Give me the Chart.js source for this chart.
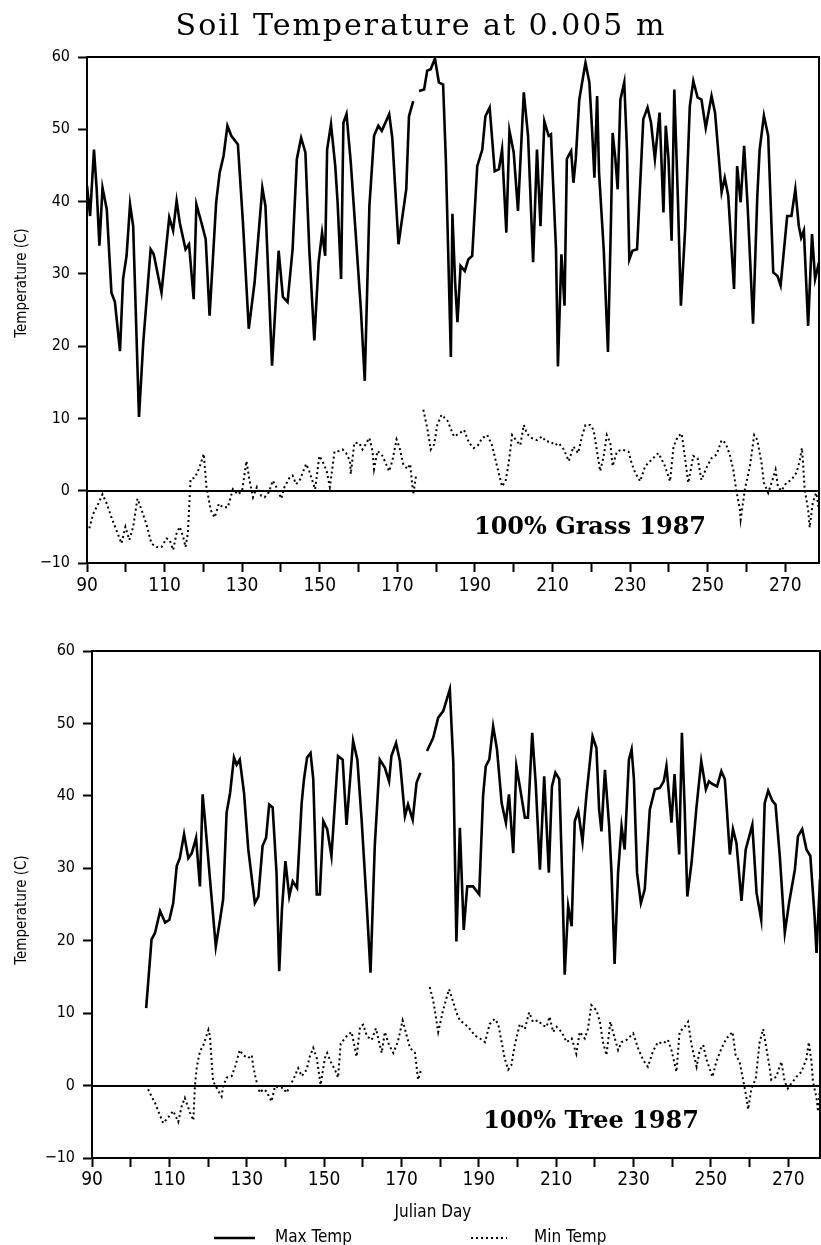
<!DOCTYPE html>
<html lang="en">
<head>
  <meta charset="UTF-8">
  <title>Soil Temperature at 0.005 m</title>
  <script src="https://cdn.jsdelivr.net/npm/chart.js"></script>
  <style>
    body { margin: 0; background: #fff; }
    #wrap { position: relative; width: 821px; height: 1245px; }
    canvas { position: absolute; left: 0; }
  </style>
</head>
<body>
<div id="wrap">
  <canvas id="grassCanvas" width="821" height="600" style="top:0"></canvas>
  <canvas id="treeCanvas" width="821" height="645" style="top:600px"></canvas>
</div>
<script>
  // Julian days and temperatures (null = gap in record)
  const grassMaxDay = [90.0,90.8,91.8,92.5,93.2,94.0,95.1,96.3,97.2,98.5,99.3,100.2,101.1,101.9,103.4,104.5,106.4,107.2,109.2,111.2,112.2,113.1,113.9,115.4,116.3,117.5,118.2,119.5,120.6,121.6,123.3,124.2,125.2,126.2,127.2,128.9,130.2,131.7,133.2,135.2,136.0,137.7,139.4,140.5,141.7,143.0,144.1,145.2,146.3,147.3,148.6,149.7,150.6,151.4,151.9,152.9,154.0,154.6,155.5,156.1,156.9,158.0,159.3,160.6,161.6,162.8,164.0,165.1,166.0,167.9,168.7,170.3,172.3,173.0,174.1,175.0,175.6,176.9,177.7,178.6,179.7,180.7,181.8,182.5,183.8,184.2,184.9,185.5,186.3,187.4,188.3,189.3,190.6,191.9,192.7,193.8,195.1,196.2,197.0,198.1,198.9,200.0,201.1,202.6,203.7,205.0,206.0,206.9,207.9,209.0,209.6,210.9,211.4,212.3,213.1,213.7,214.8,215.4,216.0,216.9,218.5,219.5,220.2,220.8,221.5,222.0,223.2,224.3,225.1,225.5,226.2,226.8,227.5,228.5,229.2,229.8,230.6,231.8,233.4,234.5,235.4,236.4,237.6,238.6,239.2,239.9,240.7,241.4,242.3,243.1,244.2,245.4,246.3,247.4,248.4,249.5,251.0,251.9,253.6,254.4,255.3,256.8,257.6,258.5,259.4,260.3,261.7,262.8,263.4,264.5,265.6,266.9,268.0,268.8,270.5,271.6,272.6,273.5,274.1,274.8,275.9,276.9,277.7,278.7];
  const grassMaxTemp = [42.2,38.0,47.2,41.7,33.9,41.9,38.9,27.4,26.1,19.3,29.3,32.5,39.6,36.6,10.2,20.5,33.4,32.7,27.4,37.8,36.0,40.1,37.1,33.4,34.1,26.5,39.6,37.1,34.8,24.2,39.9,44.0,46.3,50.5,49.1,47.9,37.1,22.4,28.8,41.9,39.4,17.3,33.2,26.8,26.1,33.4,45.9,48.8,46.8,33.4,20.8,31.6,35.7,32.5,47.2,50.7,44.9,39.9,29.3,50.9,52.1,45.4,35.3,25.1,15.2,39.4,49.1,50.5,49.8,52.1,48.8,34.1,41.7,51.8,53.9,null,55.3,55.5,58.1,58.3,59.8,56.5,56.2,45.9,18.5,38.3,28.8,23.3,31.1,30.4,32.0,32.5,44.9,47.2,51.8,53.0,44.2,44.5,47.2,35.7,49.8,46.8,38.7,55.1,49.1,31.6,47.2,36.6,51.1,49.1,49.3,33.4,17.2,32.7,25.6,45.9,47.0,42.6,45.9,54.1,59.2,56.5,50.0,43.3,54.6,44.0,33.4,19.2,38.0,49.5,45.9,41.7,54.1,56.5,47.2,32.0,33.2,33.4,51.4,53.0,50.9,45.9,52.3,38.5,50.5,45.9,34.6,55.5,40.8,25.6,36.2,53.2,56.7,54.4,54.1,50.2,54.6,52.3,41.3,43.3,40.8,27.9,44.9,39.9,47.7,39.4,23.1,40.8,47.2,51.9,49.1,30.2,29.7,28.4,38.0,38.0,41.7,36.6,35.0,36.0,22.8,35.5,29.3,31.6];

  const grassMinDay = [90.6,91.6,92.9,94.0,95.1,96.3,97.6,98.9,99.9,100.9,101.9,103.0,104.1,105.3,106.6,107.9,109.2,110.5,111.3,112.2,113.1,113.9,114.8,115.4,116.0,116.7,117.8,119.0,120.1,120.8,121.9,122.9,124.0,125.0,126.3,127.6,128.9,130.0,131.1,131.9,132.8,133.8,134.9,135.8,136.9,137.9,138.8,140.1,140.9,142.2,143.0,143.9,144.8,146.5,147.3,148.8,149.9,150.7,151.8,152.6,153.8,155.0,155.9,156.8,157.8,158.0,158.9,160.2,161.0,162.8,163.6,164.0,164.9,166.2,167.9,168.7,169.8,170.6,171.5,172.6,173.3,174.1,174.9,175.8,176.7,177.7,178.6,179.5,180.3,181.4,182.9,184.6,185.9,187.2,188.5,189.7,190.8,191.9,193.2,194.4,195.7,197.0,197.9,198.7,199.6,200.6,201.7,202.6,203.4,204.6,206.0,207.3,208.3,209.5,210.6,211.6,212.9,214.2,215.4,216.6,217.6,218.5,219.7,220.6,221.4,222.3,223.2,224.0,224.9,225.5,226.6,227.9,229.6,230.4,231.3,232.6,233.9,235.2,236.5,237.3,238.0,239.0,240.3,241.2,242.3,243.3,244.0,245.0,246.3,247.4,248.4,249.7,251.0,252.3,253.6,254.6,255.7,256.6,257.4,258.3,258.5,259.6,260.9,262.0,262.8,263.9,264.5,265.6,266.9,267.5,268.1,269.0,270.3,271.6,272.9,273.7,274.3,274.6,275.0,275.9,276.3,277.1,278.0,278.7];
  const grassMinTemp = [-5.2,-3.2,-1.8,-0.5,-1.8,-3.7,-5.5,-7.3,-5.0,-6.8,-5.0,-1.1,-2.7,-4.6,-7.3,-7.8,-7.8,-6.6,-6.8,-8.2,-5.9,-5.0,-6.4,-7.8,-5.9,1.6,1.8,3.2,5.1,0.5,-2.7,-3.7,-1.8,-2.3,-2.3,0.2,-0.5,0.0,4.1,1.4,-0.9,0.5,-0.7,-0.9,-0.2,1.4,0.5,-1.1,0.5,1.8,2.1,0.9,1.4,3.7,2.7,0.2,4.8,4.1,2.7,0.5,5.4,5.5,5.7,5.2,4.1,2.3,6.6,6.6,5.7,7.3,5.5,3.0,5.5,4.8,2.7,4.1,7.1,5.9,3.7,3.0,3.7,-0.5,2.3,null,11.2,8.7,5.7,6.4,9.1,10.5,9.7,7.5,7.9,8.4,6.6,5.9,6.3,7.3,7.7,6.3,3.4,0.6,1.3,3.8,7.7,7.0,6.3,9.1,7.9,7.3,7.0,7.5,6.8,6.8,6.3,6.6,5.7,4.1,6.1,5.2,7.5,9.1,9.1,8.4,5.7,2.7,4.8,7.7,6.6,3.4,5.4,5.7,5.4,3.8,2.5,1.3,3.4,4.1,4.8,5.2,4.5,3.4,1.3,6.1,7.5,7.9,5.2,1.1,4.8,4.5,1.5,3.2,4.5,5.0,7.0,6.6,5.0,2.9,0.0,-2.6,-4.0,0.2,3.4,7.7,7.0,3.8,1.1,-0.3,1.8,2.9,0.6,0.0,1.1,1.5,2.5,4.1,5.9,3.8,0.2,-2.6,-5.1,-1.6,-0.3,-2.6];

  const treeMaxDay = [104.0,105.4,106.3,107.6,108.9,110.0,111.0,111.9,112.7,113.8,114.9,115.8,116.9,117.9,118.6,119.2,120.5,122.0,123.1,123.9,124.8,125.7,126.7,127.4,128.2,129.3,130.4,132.1,133.0,134.1,135.0,135.8,136.7,137.7,138.4,139.1,140.0,141.0,141.9,143.0,144.2,144.8,145.6,146.5,147.2,148.1,148.9,149.8,150.8,151.9,153.6,154.8,155.8,157.5,158.6,159.7,161.0,162.0,163.1,164.4,165.7,166.8,167.4,168.6,169.6,170.9,171.7,172.9,173.9,174.9,175.7,176.6,178.2,179.5,180.8,182.5,183.4,184.2,185.1,186.1,187.0,188.5,190.1,191.1,191.8,192.7,193.7,194.7,195.9,197.0,197.8,198.9,199.7,200.6,201.9,202.7,203.8,204.7,205.8,206.9,208.1,208.9,209.8,210.8,211.6,212.2,213.1,214.0,214.8,215.7,216.8,217.8,219.4,220.4,221.1,221.7,222.6,223.7,224.3,225.1,226.0,226.9,227.7,228.8,229.5,230.1,230.9,231.9,232.9,234.2,235.5,236.8,237.8,238.5,239.8,240.6,241.8,242.5,243.2,243.9,245.0,246.3,247.5,248.7,249.5,250.5,251.6,252.7,253.6,254.9,255.7,256.6,257.9,259.0,260.7,261.8,263.0,263.9,264.8,265.9,266.7,267.8,269.1,270.2,271.7,272.5,273.6,274.7,275.7,276.8,277.3,278.2];
  const treeMaxTemp = [10.7,20.2,21.1,24.1,22.5,22.9,25.2,30.3,31.4,34.7,31.4,32.1,34.2,27.5,40.2,36.7,28.5,19.2,22.9,25.7,37.7,40.4,45.3,44.3,45.0,40.4,32.6,25.2,26.1,33.1,34.2,38.8,38.4,29.4,15.8,24.3,31.0,26.1,28.2,27.3,39.0,42.3,45.3,45.9,42.3,26.4,26.4,36.5,35.4,31.7,45.5,45.0,36.0,47.6,45.0,36.7,25.2,15.6,33.1,45.0,43.9,42.0,45.5,47.3,44.8,37.2,38.8,36.7,41.8,43.2,null,46.2,48.0,50.8,51.7,54.7,44.6,19.9,35.6,21.5,27.5,27.5,26.4,40.0,44.1,45.0,49.6,46.4,39.0,36.3,40.2,32.1,44.1,41.3,37.0,37.0,48.7,41.8,29.8,42.7,29.4,41.3,43.2,42.3,28.0,15.3,24.8,22.0,36.5,37.9,33.7,40.0,48.2,46.6,38.1,35.1,43.6,35.8,29.4,16.8,29.4,35.8,32.6,45.0,46.4,42.3,29.4,25.2,27.1,38.1,40.9,41.1,42.0,44.1,36.3,43.0,31.9,48.7,38.6,26.1,30.8,38.6,44.8,40.9,42.0,41.6,41.3,43.4,42.3,31.9,35.4,33.5,25.5,32.6,36.0,26.6,22.9,39.0,40.7,39.3,38.8,31.7,21.1,25.2,29.8,34.4,35.4,32.6,31.7,23.4,18.3,28.5];

  const treeMinDay = [104.5,105.4,106.3,107.1,108.4,109.7,111.0,112.3,113.2,114.0,115.3,116.2,116.6,117.1,117.9,118.8,120.1,120.5,120.9,121.3,122.4,123.5,123.9,124.8,126.1,127.0,128.2,129.1,130.4,131.3,131.7,132.4,133.4,134.3,135.1,136.4,137.3,138.4,139.4,140.3,142.0,143.3,144.2,145.5,146.3,147.2,148.1,149.1,150.2,150.8,151.7,152.8,153.6,154.3,155.8,157.1,158.4,159.3,160.1,161.1,162.3,163.4,164.4,164.9,165.7,166.8,167.9,169.1,170.3,171.3,172.2,173.5,174.3,175.2,176.2,177.3,178.2,179.5,180.8,182.3,183.4,184.2,185.1,186.4,187.7,189.0,190.3,191.6,192.8,194.1,195.0,195.9,196.7,197.6,198.4,199.3,200.6,201.9,203.0,204.0,205.3,206.6,207.5,208.3,209.2,210.1,211.4,212.7,214.0,215.2,216.1,217.4,218.2,219.1,220.4,221.3,222.1,223.0,224.0,224.7,226.0,226.9,228.2,229.9,231.2,232.5,233.7,235.0,236.3,237.6,238.9,239.8,241.1,241.9,243.2,244.1,245.0,246.3,247.1,248.0,248.8,250.4,251.4,252.7,254.0,255.6,256.4,257.4,258.5,259.2,259.6,260.5,261.6,262.6,263.5,264.2,265.2,265.6,266.9,268.2,269.1,269.9,270.8,272.1,273.4,274.7,275.3,276.0,276.4,277.3,277.7,278.2];
  const treeMinTemp = [-0.5,-1.5,-2.4,-3.5,-5.2,-4.4,-3.5,-5.0,-2.8,-1.7,-3.7,-4.8,-0.1,2.6,4.7,5.6,7.7,6.8,3.6,0.6,-0.5,-1.5,-0.1,1.1,1.3,2.6,4.9,4.2,3.8,4.2,2.6,0.8,-1.0,-0.5,-0.8,-2.2,-0.1,-0.3,-0.3,-1.0,0.8,2.4,1.3,2.2,4.0,5.2,3.8,0.1,3.8,4.5,3.3,2.2,1.1,5.8,6.8,7.4,4.0,8.1,8.4,6.8,6.3,7.9,5.6,4.5,7.4,5.6,4.5,6.1,9.0,7.0,5.2,4.5,0.8,2.4,null,13.6,11.8,7.4,10.5,13.3,11.5,10.1,9.0,8.5,7.8,6.9,6.5,6.0,8.5,9.2,8.5,6.0,3.7,2.2,2.8,5.6,8.5,7.8,10.1,8.8,9.0,8.3,8.1,9.5,7.4,8.1,7.4,6.0,6.5,4.4,7.4,6.5,7.8,11.1,10.4,8.8,6.0,4.2,8.8,7.4,4.9,6.0,6.3,7.2,5.1,3.5,2.6,4.7,6.0,5.8,6.3,4.9,1.9,7.4,8.1,8.8,5.6,2.6,4.9,5.6,3.7,1.2,3.3,5.1,6.5,7.4,4.2,3.3,0.3,-1.7,-3.3,-0.4,1.0,6.0,7.8,5.6,2.4,0.8,1.2,3.3,0.5,-0.4,0.3,1.2,1.9,3.7,6.0,3.3,0.5,-1.7,-3.6,-0.4];

  const seriesLabels = ['Max Temp', 'Min Temp'];
  const yTickValues = [-10, 0, 10, 20, 30, 40, 50, 60];
  const xLabelDays = [90, 110, 130, 150, 170, 190, 210, 230, 250, 270];

  const sansFamily = '"Liberation Sans Narrow", "DejaVu Sans Condensed", "Liberation Sans", sans-serif';
  const serif = '"DejaVu Serif", "Liberation Serif", serif';

  function toPoints(days, temps) {
    return days.map((d, i) => ({ x: d, y: temps[i] }));
  }

  // draws the box, the zero line and the free text of each panel
  const panelDecor = {
    id: 'panelDecor',
    beforeDatasetsDraw(chart) {
      const { ctx, chartArea: a, scales: { y } } = chart;
      const y0 = Math.round(y.getPixelForValue(0));
      ctx.save();
      ctx.strokeStyle = '#000';
      ctx.lineWidth = 2;
      ctx.beginPath();
      ctx.moveTo(a.left, y0);
      ctx.lineTo(a.right, y0);
      ctx.stroke();
      ctx.restore();
    },
    afterDraw(chart, args, opts) {
      const { ctx, chartArea: a } = chart;
      ctx.save();
      ctx.strokeStyle = '#000';
      ctx.lineWidth = 2;
      ctx.strokeRect(a.left, a.top, a.right - a.left, a.bottom - a.top);
      ctx.fillStyle = '#000';
      (opts.texts || []).forEach(t => {
        ctx.save();
        ctx.font = t.font;
        ctx.letterSpacing = t.spacing || '0px';
        ctx.textAlign = t.align || 'center';
        ctx.textBaseline = 'middle';
        ctx.translate(t.x, t.y);
        if (t.rotate) ctx.rotate(t.rotate);
        ctx.fillText(t.text, 0, 0);
        ctx.restore();
      });
      if (opts.legend) {
        const L = opts.legend;
        chart.data.datasets.forEach((ds, i) => {
          const item = L.items[i];
          ctx.save();
          ctx.strokeStyle = '#000';
          ctx.lineWidth = ds.borderWidth;
          ctx.setLineDash(ds.borderDash || []);
          ctx.beginPath();
          ctx.moveTo(item.x, L.y);
          ctx.lineTo(item.x + item.len, L.y);
          ctx.stroke();
          ctx.restore();
          ctx.font = L.font;
          ctx.textAlign = 'left';
          ctx.textBaseline = 'middle';
          ctx.fillText(ds.label, item.textX, L.y);
        });
      }
      ctx.restore();
    }
  };

  function makeChart(canvasId, maxPts, minPts, layout, decor) {
    const ctx = document.getElementById(canvasId).getContext('2d');
    return new Chart(ctx, {
      type: 'line',
      data: {
        datasets: [
          { label: seriesLabels[0], data: maxPts, borderColor: '#000', borderWidth: 2.6,
            pointRadius: 0, tension: 0, spanGaps: false },
          { label: seriesLabels[1], data: minPts, borderColor: '#000', borderWidth: 2,
            borderDash: [2, 3], pointRadius: 0, tension: 0, spanGaps: false }
        ]
      },
      options: {
        responsive: false,
        animation: false,
        layout: { padding: layout.padding },
        plugins: { legend: { display: false }, tooltip: { enabled: false }, panelDecor: decor },
        scales: {
          x: {
            type: 'linear', min: 90, max: layout.xMax,
            afterFit: s => { s.height = layout.xHeight; },
            border: { display: true, color: '#000', width: 2 },
            grid: { drawOnChartArea: false, drawTicks: true, tickLength: 9, tickWidth: 2, tickColor: '#000' },
            ticks: {
              stepSize: 10, includeBounds: false, autoSkip: false, maxRotation: 0,
              padding: layout.xPad, color: '#000', font: { family: sansFamily, size: 19 },
              callback: v => xLabelDays.includes(v) ? String(v) : ''
            }
          },
          y: {
            min: -10, max: 60,
            afterFit: s => { s.width = layout.yWidth; },
            afterBuildTicks: s => { s.ticks = yTickValues.map(v => ({ value: v })); },
            border: { display: true, color: '#000', width: 2 },
            grid: { drawOnChartArea: false, drawTicks: true, tickLength: 9, tickWidth: 2, tickColor: '#000' },
            ticks: {
              padding: 8, color: '#000', font: { family: sansFamily, size: 16 },
              callback: v => v < 0 ? '\u2212' + Math.abs(v) : String(v)
            }
          }
        }
      },
      plugins: [panelDecor]
    });
  }

  makeChart('grassCanvas',
    toPoints(grassMaxDay, grassMaxTemp), toPoints(grassMinDay, grassMinTemp),
    { padding: { top: 57, left: 0, right: 2, bottom: 0 }, xMax: 278.7, xHeight: 37, xPad: 3, yWidth: 87 },
    { texts: [
        { text: 'Soil Temperature at 0.005 m', x: 421, y: 27, font: '30px ' + serif, spacing: '2px' },
        { text: '100% Grass 1987', x: 590, y: 528, font: 'bold 24px ' + serif },
        { text: 'Temperature (C)', x: 22, y: 283, rotate: -Math.PI / 2, font: '15px ' + sansFamily }
      ] });

  makeChart('treeCanvas',
    toPoints(treeMaxDay, treeMaxTemp), toPoints(treeMinDay, treeMinTemp),
    { padding: { top: 51, left: 0, right: 1, bottom: 0 }, xMax: 278.2, xHeight: 87, xPad: 2, yWidth: 92 },
    { texts: [
        { text: '100% Tree 1987', x: 591, y: 522, font: 'bold 24px ' + serif },
        { text: 'Temperature (C)', x: 22, y: 310, rotate: -Math.PI / 2, font: '15px ' + sansFamily },
        { text: 'Julian Day', x: 433, y: 613, font: '17px ' + sansFamily }
      ],
      legend: { y: 638, font: '17px ' + sansFamily,
        items: [{ x: 214, len: 41, textX: 275 }, { x: 471, len: 36, textX: 534 }] } });
</script>
</body>
</html>
